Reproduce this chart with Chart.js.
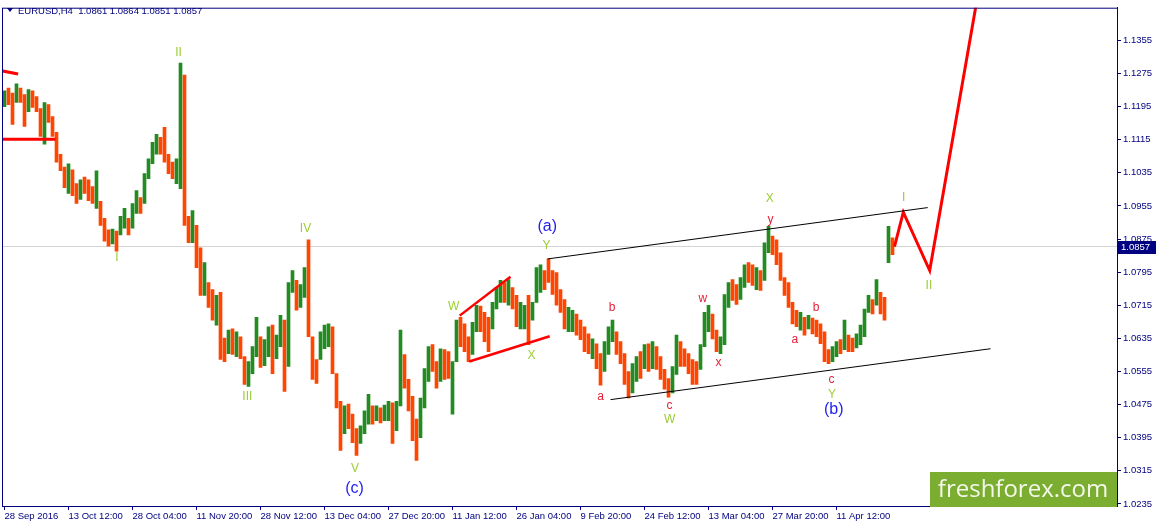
<!DOCTYPE html>
<html>
<head>
<meta charset="utf-8">
<script src="https://cdn.jsdelivr.net/npm/chart.js@4.4.1/dist/chart.umd.min.js"></script>
<style>
  html, body { margin: 0; padding: 0; background: #fff; }
  canvas { display: block; }
</style>
</head>
<body>
<canvas id="chart" width="1157" height="527"></canvas>
<script>
// x axis labels, one every 16 bars
const tickLabels = ['28 Sep 2016', '13 Oct 12:00', '28 Oct 04:00', '11 Nov 20:00', '28 Nov 12:00',
  '13 Dec 04:00', '27 Dec 20:00', '11 Jan 12:00', '26 Jan 04:00', '9 Feb 20:00',
  '24 Feb 12:00', '13 Mar 04:00', '27 Mar 20:00', '11 Apr 12:00'];
const yTicks = [1.0235, 1.0315, 1.0395, 1.0475, 1.0555, 1.0635, 1.0715, 1.0795,
  1.0875, 1.0955, 1.1035, 1.1115, 1.1195, 1.1275, 1.1355];

// EURUSD bars (each bar here stands for a few H4 bars)
const firstOpen = 1.1205;
const highs = [1.1233,1.1240,1.1228,1.1250,1.1240,1.1224,1.1236,1.1233,1.1219,1.1190,
  1.1205,1.1200,1.1171,1.1133,1.1080,1.1049,1.1057,1.1042,1.1009,1.1018,
  1.1025,1.1018,1.1002,1.1040,1.0966,1.0925,1.0897,1.0899,1.0894,1.0930,
  1.0949,1.0925,1.0961,1.0992,1.0975,1.1033,1.1069,1.1109,1.1128,1.1121,
  1.1145,1.1080,1.1061,1.1069,1.1300,1.1271,1.0930,1.0944,1.0908,1.0854,
  1.0818,1.0770,1.0753,1.0739,1.0746,1.0636,1.0655,1.0658,1.0651,1.0639,
  1.0591,1.0579,1.0615,1.0686,1.0639,1.0632,1.0663,1.0667,1.0643,1.0691,
  1.0679,1.0770,1.0799,1.0775,1.0765,1.0806,1.0873,1.0639,1.0584,1.0651,
  1.0667,1.0670,1.0663,1.0550,1.0483,1.0472,1.0476,1.0452,1.0417,1.0424,
  1.0460,1.0500,1.0472,1.0472,1.0467,1.0474,1.0483,1.0479,1.0483,1.0655,
  1.0596,1.0536,1.0495,1.0440,1.0491,1.0562,1.0615,1.0620,1.0579,1.0610,
  1.0608,1.0603,1.0579,1.0679,1.0686,1.0670,1.0639,1.0674,1.0715,1.0713,
  1.0698,1.0686,1.0722,1.0758,1.0775,1.0770,1.0777,1.0758,1.0739,1.0722,
  1.0715,1.0739,1.0722,1.0806,1.0813,1.0799,1.0827,1.0799,1.0794,1.0753,
  1.0729,1.0710,1.0703,1.0694,1.0679,1.0663,1.0646,1.0634,1.0622,1.0598,
  1.0627,1.0663,1.0679,1.0651,1.0627,1.0598,1.0555,1.0574,1.0591,1.0603,
  1.0620,1.0622,1.0627,1.0615,1.0591,1.0560,1.0538,1.0567,1.0643,1.0627,
  1.0610,1.0598,1.0584,1.0579,1.0620,1.0698,1.0715,1.0694,1.0655,1.0639,
  1.0741,1.0770,1.0777,1.0765,1.0782,1.0813,1.0818,1.0813,1.0806,1.0799,
  1.0866,1.0906,1.0882,1.0873,1.0842,1.0782,1.0770,1.0722,1.0703,1.0698,
  1.0686,1.0691,1.0684,1.0679,1.0670,1.0651,1.0608,1.0615,1.0627,1.0632,
  1.0679,1.0643,1.0636,1.0646,1.0667,1.0706,1.0739,1.0729,1.0777,1.0746,
  1.0734,1.0906,1.0878];
const lows = [1.1195,1.1200,1.1152,1.1205,1.1205,1.1147,1.1183,1.1193,1.1183,1.1123,
  1.1104,1.1157,1.1123,1.1061,1.1040,1.0999,1.0985,1.0980,1.0961,1.0971,
  1.0985,1.0968,1.0961,1.0949,1.0908,1.0870,1.0858,1.0863,1.0846,1.0885,
  1.0901,1.0885,1.0901,1.0937,1.0937,1.0961,1.1021,1.1057,1.1080,1.1080,
  1.1061,1.1033,1.1021,1.1009,1.0997,1.0908,1.0866,1.0866,1.0806,1.0739,
  1.0739,1.0710,1.0679,1.0667,1.0584,1.0579,1.0598,1.0596,1.0591,1.0586,
  1.0524,1.0519,1.0550,1.0591,1.0565,1.0569,1.0591,1.0550,1.0586,1.0615,
  1.0507,1.0567,1.0746,1.0703,1.0710,1.0734,1.0639,1.0536,1.0526,1.0584,
  1.0610,1.0615,1.0550,1.0467,1.0364,1.0405,1.0417,1.0383,1.0352,1.0381,
  1.0405,1.0428,1.0428,1.0436,1.0431,1.0436,1.0436,1.0381,1.0412,1.0472,
  1.0515,1.0460,1.0388,1.0340,1.0395,1.0467,1.0531,1.0555,1.0515,1.0531,
  1.0536,1.0538,1.0452,1.0579,1.0615,1.0603,1.0579,1.0596,1.0651,1.0651,
  1.0627,1.0603,1.0658,1.0706,1.0722,1.0722,1.0715,1.0706,1.0663,1.0658,
  1.0658,1.0620,1.0679,1.0722,1.0746,1.0753,1.0770,1.0741,1.0715,1.0698,
  1.0658,1.0651,1.0651,1.0643,1.0632,1.0603,1.0598,1.0586,1.0562,1.0522,
  1.0555,1.0596,1.0627,1.0596,1.0574,1.0524,1.0491,1.0503,1.0531,1.0538,
  1.0562,1.0555,1.0562,1.0560,1.0536,1.0512,1.0493,1.0503,1.0548,1.0567,
  1.0567,1.0550,1.0524,1.0524,1.0560,1.0615,1.0651,1.0634,1.0603,1.0598,
  1.0620,1.0710,1.0727,1.0717,1.0729,1.0758,1.0770,1.0763,1.0753,1.0751,
  1.0775,1.0842,1.0837,1.0813,1.0775,1.0739,1.0710,1.0670,1.0663,1.0655,
  1.0643,1.0658,1.0646,1.0639,1.0622,1.0579,1.0574,1.0579,1.0591,1.0598,
  1.0608,1.0603,1.0603,1.0612,1.0620,1.0639,1.0698,1.0694,1.0715,1.0694,
  1.0679,1.0818,1.0837];
const closes = [1.1224,1.1219,1.1176,1.1236,1.1219,1.1188,1.1224,1.1212,1.1190,1.1140,
  1.1188,1.1171,1.1133,1.1080,1.1052,1.1014,1.1045,1.0997,1.0985,1.1009,
  1.1004,1.0985,1.0973,1.0997,1.0925,1.0889,1.0878,1.0885,1.0870,1.0918,
  1.0937,1.0901,1.0949,1.0980,1.0961,1.1021,1.1057,1.1100,1.1116,1.1092,
  1.1080,1.1045,1.1037,1.1045,1.1260,1.0961,1.0889,1.0925,1.0830,1.0758,
  1.0799,1.0734,1.0698,1.0722,1.0615,1.0603,1.0639,1.0615,1.0627,1.0603,
  1.0543,1.0567,1.0603,1.0639,1.0591,1.0615,1.0651,1.0603,1.0627,1.0674,
  1.0579,1.0746,1.0782,1.0734,1.0746,1.0794,1.0663,1.0567,1.0550,1.0632,
  1.0639,1.0651,1.0567,1.0483,1.0424,1.0448,1.0436,1.0400,1.0376,1.0412,
  1.0448,1.0460,1.0448,1.0460,1.0448,1.0460,1.0472,1.0424,1.0460,1.0579,
  1.0555,1.0483,1.0412,1.0400,1.0472,1.0543,1.0591,1.0579,1.0543,1.0591,
  1.0567,1.0555,1.0567,1.0663,1.0651,1.0627,1.0603,1.0663,1.0698,1.0686,
  1.0651,1.0627,1.0710,1.0746,1.0758,1.0746,1.0758,1.0727,1.0686,1.0698,
  1.0706,1.0686,1.0710,1.0789,1.0799,1.0782,1.0775,1.0758,1.0734,1.0722,
  1.0679,1.0694,1.0698,1.0663,1.0646,1.0627,1.0615,1.0622,1.0579,1.0543,
  1.0615,1.0651,1.0670,1.0608,1.0591,1.0543,1.0519,1.0555,1.0579,1.0567,
  1.0603,1.0579,1.0608,1.0584,1.0555,1.0526,1.0507,1.0543,1.0615,1.0591,
  1.0579,1.0567,1.0543,1.0536,1.0603,1.0679,1.0698,1.0655,1.0622,1.0627,
  1.0722,1.0758,1.0746,1.0741,1.0765,1.0799,1.0794,1.0782,1.0789,1.0775,
  1.0854,1.0878,1.0854,1.0830,1.0789,1.0758,1.0722,1.0686,1.0679,1.0686,
  1.0663,1.0679,1.0663,1.0651,1.0632,1.0591,1.0584,1.0603,1.0615,1.0608,
  1.0651,1.0622,1.0615,1.0632,1.0655,1.0698,1.0722,1.0703,1.0758,1.0722,
  1.0698,1.0866,1.0857];
const lastPrice = 1.0857;
const titleText = 'EURUSD,H4  1.0861 1.0864 1.0851 1.0857';

// drawn lines, [bar index, price]
const oldLevelShort = [[-1, 1.1282], [3.4, 1.1274]];
const oldLevel = [[-1, 1.1116], [12.75, 1.1116]];
const triUpper = [[113.8, 1.0690], [126.5, 1.0784]];
const triLower = [[116.2, 1.0579], [136.3, 1.0640]];
const channelTop = [[135.8, 1.0827], [230.8, 1.0951]];
const channelBottom = [[151.5, 1.0487], [246.5, 1.0610]];
const forecast = [[222.5, 1.0857], [224.7, 1.0940], [231.3, 1.0799], [243.5, 1.1474]];

// wave marks: text, bar index, price, kind (g green, r red, b blue)
const waveLabels = [
  ['II', 43.5, 1.1326, 'g'], ['I', 28.1, 1.0830, 'g'], ['III', 60.7, 1.0494, 'g'],
  ['IV', 75.25, 1.0901, 'g'], ['V', 87.6, 1.0320, 'g'], ['(c)', 87.5, 1.0271, 'b'],
  ['W', 112.3, 1.0712, 'g'], ['X', 131.75, 1.0593, 'g'], ['Y', 135.5, 1.0859, 'g'],
  ['(a)', 135.7, 1.0904, 'b'], ['b', 151.9, 1.0710, 'r'], ['a', 149, 1.0495, 'r'],
  ['c', 166.25, 1.0472, 'r'], ['W', 166.3, 1.0438, 'g'], ['w', 174.6, 1.0732, 'r'],
  ['x', 178.5, 1.0577, 'r'], ['X', 191.3, 1.0973, 'g'], ['y', 191.5, 1.0921, 'r'],
  ['b', 202.9, 1.0708, 'r'], ['a', 197.6, 1.0631, 'r'], ['c', 206.75, 1.0535, 'r'],
  ['Y', 206.9, 1.0499, 'g'], ['(b)', 207.3, 1.0464, 'b'], ['I', 224.8, 1.0975, 'g'],
  ['II', 231.1, 1.0762, 'g']
];

const NAVY = '#000080';
const UP = '#228b22';
const DOWN = '#ff4500';
const labelColors = { g: '#9acd32', r: '#e62039', b: '#1e1ef0' };
const FONT = 'Liberation Sans';

const opens = [firstOpen, ...closes.slice(0, -1)];
const barColors = closes.map((c, i) => (c >= opens[i] ? UP : DOWN));
const pts = arr => arr.map(([x, y]) => ({ x, y }));

const lineSet = (points, color, width) => ({
  type: 'line',
  data: pts(points),
  borderColor: color,
  borderWidth: width,
  pointRadius: 0,
  tension: 0,
  order: 0
});

const frame = {
  id: 'frame',
  afterDraw(chart) {
    const { ctx, chartArea: a, scales: { y } } = chart;
    ctx.save();
    ctx.strokeStyle = NAVY;
    ctx.lineWidth = 1;
    ctx.strokeRect(a.left + 0.5, a.top + 0.5, a.right - a.left, a.bottom - a.top);

    // title
    ctx.fillStyle = NAVY;
    ctx.beginPath();
    ctx.moveTo(7, 8); ctx.lineTo(13, 8); ctx.lineTo(10, 12); ctx.closePath();
    ctx.fill();
    ctx.font = '9.5px "' + FONT + '"';
    ctx.textBaseline = 'middle';
    ctx.textAlign = 'left';
    ctx.fillText(titleText, 18, 11);

    // current price box
    const py = y.getPixelForValue(lastPrice);
    ctx.fillStyle = NAVY;
    ctx.fillRect(a.right + 1, Math.round(py) - 6, 38, 13);
    ctx.fillStyle = '#fff';
    ctx.fillText(lastPrice.toFixed(4), a.right + 4, Math.round(py) + 0.5);

    // watermark
    ctx.fillStyle = '#7aad30';
    ctx.fillRect(930, 472, a.right - 930, a.bottom - 472 + 1);
    ctx.fillStyle = '#f4f8ea';
    ctx.font = '24px "Open Sans"';
    ctx.textAlign = 'center';
    ctx.textBaseline = 'alphabetic';
    ctx.fillText('freshforex.com', 1023, 497);
    ctx.restore();
  }
};

const waveText = {
  id: 'waveText',
  afterDatasetsDraw(chart) {
    const { ctx, scales: { x, y } } = chart;
    ctx.save();
    ctx.textAlign = 'center';
    ctx.textBaseline = 'middle';
    for (const [txt, bx, price, kind] of waveLabels) {
      ctx.fillStyle = labelColors[kind];
      ctx.font = (kind === 'b' ? '16px "' : '12px "') + FONT + '"';
      ctx.fillText(txt, x.getPixelForValue(bx), y.getPixelForValue(price));
    }
    ctx.restore();
  }
};

new Chart(document.getElementById('chart'), {
  type: 'bar',
  data: {
    datasets: [
      {
        type: 'line',
        data: [{ x: -1, y: lastPrice }, { x: 300, y: lastPrice }],
        borderColor: '#d4d4d4',
        borderWidth: 1,
        pointRadius: 0,
        order: 10
      },
      {
        type: 'bar',
        data: highs.map((h, i) => ({ x: i, y: [lows[i], h] })),
        backgroundColor: barColors,
        barThickness: 3,
        order: 5
      },
      lineSet(oldLevelShort, '#ff0000', 3),
      lineSet(oldLevel, '#ff0000', 3),
      lineSet(triUpper, '#ff0000', 2.5),
      lineSet(triLower, '#ff0000', 2.5),
      lineSet(channelTop, '#000000', 1),
      lineSet(channelBottom, '#000000', 1),
      lineSet(forecast, '#ff0000', 3)
    ]
  },
  options: {
    responsive: false,
    animation: false,
    devicePixelRatio: 1,
    layout: { padding: { left: 2, top: 2, right: 0, bottom: 0 } },
    plugins: { legend: { display: false }, tooltip: { enabled: false } },
    scales: {
      x: {
        type: 'linear',
        min: -0.625,
        max: 278.125,
        offset: false,
        afterFit: s => { s.height = 21; },
        afterBuildTicks: s => { s.ticks = tickLabels.map((_, i) => ({ value: i * 16 })); },
        grid: { drawOnChartArea: false, offset: false, color: NAVY, tickLength: 4 },
        border: { color: NAVY },
        ticks: {
          autoSkip: false,
          maxRotation: 0,
          align: 'start',
          padding: 1,
          color: NAVY,
          font: { family: FONT, size: 9.5 },
          callback: (v, i) => tickLabels[i]
        }
      },
      y: {
        position: 'right',
        min: 1.0230,
        max: 1.1434,
        afterFit: s => { s.width = 40; },
        afterBuildTicks: s => { s.ticks = yTicks.map(v => ({ value: v })); },
        grid: { drawOnChartArea: false, color: NAVY, tickLength: 4 },
        border: { color: NAVY },
        ticks: {
          padding: 2,
          color: NAVY,
          font: { family: FONT, size: 9.5 },
          callback: v => v.toFixed(4)
        }
      }
    }
  },
  plugins: [waveText, frame]
});
</script>
</body>
</html>
